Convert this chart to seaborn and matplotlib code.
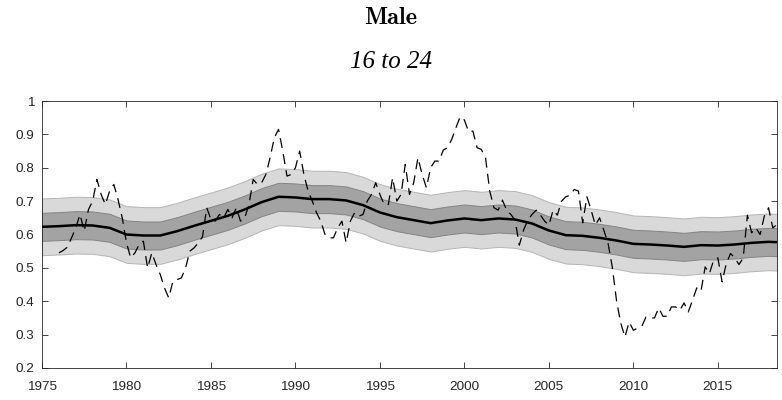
import numpy as np
import pandas as pd
import matplotlib
matplotlib.use("Agg")
import matplotlib.pyplot as plt
import seaborn as sns

# smoothed trend (annual) and its two bands
trend_years = list(range(1975, 2019)) + [2018.5]
trend = [0.623, 0.625, 0.628, 0.627, 0.620, 0.600, 0.597, 0.597, 0.610, 0.626,
         0.641, 0.656, 0.675, 0.697, 0.713, 0.711, 0.706, 0.706, 0.702, 0.688,
         0.666, 0.652, 0.643, 0.634, 0.642, 0.648, 0.643, 0.648, 0.645, 0.633,
         0.612, 0.598, 0.596, 0.590, 0.582, 0.572, 0.570, 0.567, 0.563, 0.568,
         0.567, 0.570, 0.575, 0.578, 0.577]
inner_halfwidth = 0.042
outer_halfwidth = 0.085

# quarterly observed series, 1976Q1 .. 2018Q3
obs_start = 1976.0
observed = [
    0.545, 0.552, 0.562, 0.590,   # 1976
    0.620, 0.660, 0.610, 0.675,   # 1977
    0.700, 0.765, 0.720, 0.690,   # 1978
    0.730, 0.750, 0.705, 0.650,   # 1979
    0.575, 0.530, 0.545, 0.570,   # 1980
    0.580, 0.500, 0.545, 0.510,   # 1981
    0.480, 0.440, 0.410, 0.460,   # 1982
    0.465, 0.470, 0.500, 0.550,   # 1983
    0.560, 0.575, 0.593, 0.680,   # 1984
    0.645, 0.640, 0.660, 0.650,   # 1985
    0.675, 0.650, 0.680, 0.640,   # 1986
    0.650, 0.690, 0.765, 0.750,   # 1987
    0.755, 0.780, 0.830, 0.890,   # 1988
    0.915, 0.850, 0.775, 0.780,   # 1989
    0.800, 0.850, 0.780, 0.730,   # 1990
    0.700, 0.665, 0.640, 0.600,   # 1991
    0.590, 0.590, 0.620, 0.640,   # 1992
    0.575, 0.640, 0.665, 0.655,   # 1993
    0.660, 0.700, 0.720, 0.755,   # 1994
    0.720, 0.690, 0.690, 0.770,   # 1995
    0.700, 0.720, 0.810, 0.720,   # 1996
    0.755, 0.830, 0.780, 0.740,   # 1997
    0.800, 0.820, 0.820, 0.853,   # 1998
    0.860, 0.885, 0.920, 0.953,   # 1999
    0.943, 0.908, 0.910, 0.860,   # 2000
    0.855, 0.830, 0.730, 0.680,   # 2001
    0.673, 0.703, 0.673, 0.660,   # 2002
    0.643, 0.568, 0.613, 0.643,   # 2003
    0.660, 0.673, 0.658, 0.640,   # 2004
    0.628, 0.673, 0.658, 0.700,   # 2005
    0.713, 0.718, 0.735, 0.730,   # 2006
    0.635, 0.713, 0.673, 0.628,   # 2007
    0.650, 0.613, 0.574, 0.503,   # 2008
    0.403, 0.335, 0.293, 0.338,   # 2009
    0.313, 0.320, 0.325, 0.353,   # 2010
    0.350, 0.350, 0.380, 0.355,   # 2011
    0.355, 0.383, 0.383, 0.373,   # 2012
    0.395, 0.368, 0.403, 0.440,   # 2013
    0.430, 0.503, 0.483, 0.523,   # 2014
    0.530, 0.458, 0.513, 0.543,   # 2015
    0.530, 0.510, 0.530, 0.658,   # 2016
    0.605, 0.620, 0.600, 0.655,   # 2017
    0.680, 0.620, 0.630,          # 2018
]

x_ticks = [1975, 1980, 1985, 1990, 1995, 2000, 2005, 2010, 2015]
y_ticks = [0.2, 0.3, 0.4, 0.5, 0.6, 0.7, 0.8, 0.9, 1.0]
y_ticklabels = ["0.2", "0.3", "0.4", "0.5", "0.6", "0.7", "0.8", "0.9", "1"]

sns.set_style("white")
plt.rcParams["font.family"] = ["Liberation Sans", "DejaVu Sans"]

trend_df = pd.DataFrame({"year": trend_years, "value": trend})
trend_df["in_lo"] = trend_df["value"] - inner_halfwidth
trend_df["in_hi"] = trend_df["value"] + inner_halfwidth
trend_df["out_lo"] = trend_df["value"] - outer_halfwidth
trend_df["out_hi"] = trend_df["value"] + outer_halfwidth

obs_df = pd.DataFrame({"year": obs_start + 0.25 * np.arange(len(observed)),
                       "value": observed})

fig = plt.figure(figsize=(7.82, 4.0), dpi=100)
ax = fig.add_axes([0.0537, 0.08, 0.9399, 0.6675])

ax.fill_between(trend_df["year"], trend_df["out_lo"], trend_df["out_hi"],
                facecolor="#d9d9d9", edgecolor="#b5b5b5", linewidth=0.7, zorder=1)
ax.fill_between(trend_df["year"], trend_df["in_lo"], trend_df["in_hi"],
                facecolor="#a3a3a3", edgecolor="#848484", linewidth=0.7, zorder=2)

sns.lineplot(data=obs_df, x="year", y="value", ax=ax, color="black",
             linewidth=0.9, dashes=False, zorder=3)
ax.lines[-1].set_linestyle((0, (8, 5)))
sns.lineplot(data=trend_df, x="year", y="value", ax=ax, color="black",
             linewidth=1.8, zorder=4)

ax.set_xlim(1975, 2018.5)
ax.set_ylim(0.2, 1.0)
ax.set_xticks(x_ticks)
ax.set_xticklabels([str(t) for t in x_ticks])
ax.set_yticks(y_ticks)
ax.set_yticklabels(y_ticklabels)
ax.set_xlabel("")
ax.set_ylabel("")

edge = "#262626"
for s in ax.spines.values():
    s.set_visible(True)
    s.set_color(edge)
    s.set_linewidth(0.6)
ax.tick_params(direction="in", length=4, width=0.6, color=edge,
               labelsize=9.7, labelcolor=edge, top=True, right=True,
               bottom=True, left=True)
ax.tick_params(axis="x", pad=9)
ax.tick_params(axis="y", pad=5.5)

fig.text(0.5, 1 - 18 / 400, "Male", ha="center", va="center",
         fontsize=17.5, family="cmb10", color="black")
fig.text(0.5, 1 - 62 / 400, "16 to 24", ha="center", va="center",
         fontsize=18, family="Liberation Serif", style="italic", color="black")

fig.savefig("out.png", dpi=100)
